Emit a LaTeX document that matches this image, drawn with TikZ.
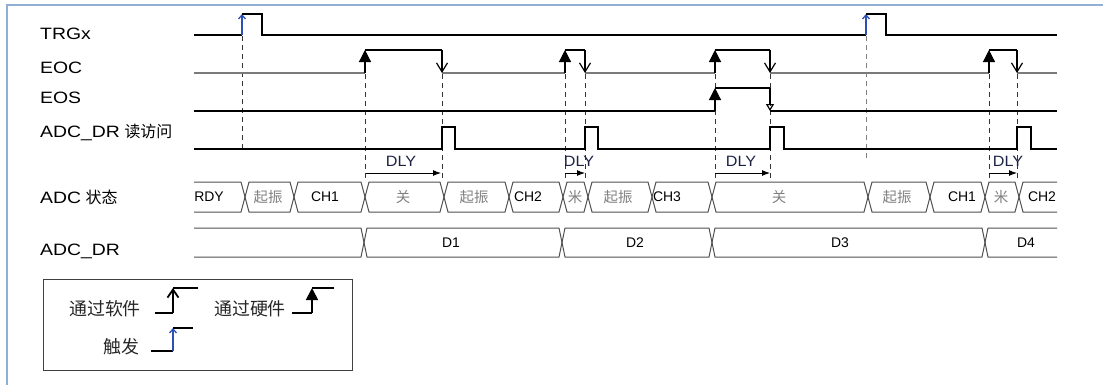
\documentclass[tikz,border=0pt]{standalone}
\usepackage{fontspec}
\usepackage{graphicx}
\setmainfont{Liberation Sans}
\newfontfamily\cjkfont{Noto Sans CJK SC}
\usetikzlibrary{arrows.meta}
\newcommand{\widetxt}[2]{\scalebox{#1}[1]{#2}}
\definecolor{framecol}{HTML}{8FB0D3}
\definecolor{trigcol}{HTML}{2E4FB5}
\definecolor{eocgray}{HTML}{7A7A7A}
\definecolor{buscol}{HTML}{505050}
\definecolor{cjkgray}{HTML}{808080}
\definecolor{dlycol}{HTML}{1C2245}
\tikzset{
  sig/.style={line width=1.2bp, black},
  lowgray/.style={line width=1.2bp, eocgray},
  hwarrow/.style={sig, -{Triangle[width=12bp,length=12bp]}},
  swarrow/.style={sig, -{Straight Barb[width=11bp,length=9bp]}},
  trigarrow/.style={line width=1.3bp, trigcol, -{Straight Barb[width=7bp,length=4bp]}},
  eosarrow/.style={sig, -{Triangle[open,width=8bp,length=7bp]}},
  dashln/.style={line width=1bp, black!80, dash pattern=on 5bp off 4bp},
  dlyarrow/.style={line width=1bp, black, -{Latex[length=8bp,width=6bp]}},
  bus/.style={line width=1bp, buscol},
  lab/.style={inner sep=0, font=\fontsize{16.5}{19}\selectfont, text=black},
  bustxt/.style={inner sep=0, font=\fontsize{14}{16}\selectfont, text=black},
  buscjk/.style={inner sep=0, font=\cjkfont\fontsize{14.5}{16}\selectfont, text=cjkgray},
  dlytxt/.style={inner sep=0, font=\fontsize{15}{17}\selectfont, text=dlycol},
  legtxt/.style={inner sep=0, font=\cjkfont\fontsize{18}{20}\selectfont, text=black!85},
  legsym/.style={line width=1.8bp, black},
}
\begin{document}
\begin{tikzpicture}[x=1bp,y=-1bp]
\useasboundingbox (0,0) rectangle (1103,385);
% frame
\draw[line width=1.5bp, framecol] (7,385) -- (7,5) -- (1103,5);

% signal labels
\node[lab, anchor=base west] (lTRG) at (40,39) {\widetxt{1.18}{TRGx}};
\node[lab, anchor=base west] (lEOC) at (40,73) {\widetxt{1.18}{EOC}};
\node[lab, anchor=base west] (lEOS) at (40,103) {\widetxt{1.18}{EOS}};
\node[lab, anchor=base west] (lRD) at (40,137) {\widetxt{1.18}{ADC\_DR} {\cjkfont\fontsize{16}{19}\selectfont 读访问}};
\node[lab, anchor=base west] (lST) at (40,203) {\widetxt{1.18}{ADC} {\cjkfont\fontsize{16}{19}\selectfont 状态}};
\node[lab, anchor=base west] (lDR) at (40,255) {\widetxt{1.18}{ADC\_DR}};

% dashed guides
\draw[dashln] (242,36) -- (242,153);
\draw[dashln, black!50] (866,36) -- (866,160);
\foreach \x in {365,442,565,585,715,770,989,1017}
  \draw[dashln] (\x,74) -- (\x,179);

% TRGx
\draw[sig] (194,35) -- (242,35);
\draw[trigarrow] (242,35) -- (242,14);
\draw[sig] (242,14) -- (262,14) -- (262,35) -- (866,35);
\draw[trigarrow] (866,35) -- (866,14);
\draw[sig] (866,14) -- (886,14) -- (886,35) -- (1057,35);

% EOC
\draw[lowgray] (194,73) -- (365,73) (442,73) -- (565,73) (585,73) -- (715,73)
  (770,73) -- (989,73) (1017,73) -- (1057,73);
\foreach \r/\f in {365/442, 565/585, 715/770, 989/1017} {
  \draw[hwarrow] (\r,73) -- (\r,50);
  \draw[sig] (\r,50) -- (\f,50);
  \draw[swarrow] (\f,50) -- (\f,73);
}

% EOS
\draw[sig] (194,111) -- (715,111);
\draw[hwarrow] (715,111) -- (715,88);
\draw[sig] (715,88) -- (770,88);
\draw[eosarrow] (770,88) -- (770,111);
\draw[sig] (770,111) -- (1057,111);

% ADC_DR read access
\draw[sig] (194,149) -- (442,149) -- (442,127) -- (455,127) -- (455,149)
  -- (585,149) -- (585,127) -- (598,127) -- (598,149)
  -- (770,149) -- (770,127) -- (784,127) -- (784,149)
  -- (1017,149) -- (1017,127) -- (1031,127) -- (1031,149) -- (1057,149);

% DLY
\foreach \a/\b/\c in {366/441/401, 565/585/579, 715/770/741, 989/1017/1008} {
  \draw[dlyarrow] (\a,173) -- (\b,173);
  \node[dlytxt] (dly\a) at (\c,161) {\widetxt{1.08}{DLY}};
}

% ADC state bus
\draw[bus] (194,182) -- (241,182) -- (245,197) -- (241,212) -- (194,212);
\foreach \a/\b in {245/294, 294/365, 365/444, 444/509, 509/563, 563/588, 588/652,
  652/712, 712/868, 868/930, 930/985, 985/1019}
  \draw[bus] (\a,197) -- (\a+4,182) -- (\b-4,182) -- (\b,197) -- (\b-4,212) -- (\a+4,212) -- cycle;
\draw[bus] (1057,182) -- (1023,182) -- (1019,197) -- (1023,212) -- (1057,212);

\node[bustxt] (s1) at (209,197) {RDY};
\node[buscjk] (s2) at (268,197) {起振};
\node[bustxt] (s3) at (325,197) {CH1};
\node[buscjk] (s4) at (403,197) {关};
\node[buscjk] (s5) at (474,197) {起振};
\node[bustxt] (s6) at (528,197) {CH2};
\node[buscjk] (s7) at (575,197) {米};
\node[buscjk] (s8) at (618,197) {起振};
\node[bustxt] (s9) at (667,197) {CH3};
\node[buscjk] (s10) at (779,197) {关};
\node[buscjk] (s11) at (897,197) {起振};
\node[bustxt] (s12) at (962,197) {CH1};
\node[buscjk] (s13) at (1001,197) {米};
\node[bustxt] (s14) at (1042,197) {CH2};

% ADC_DR bus
\draw[bus] (194,228) -- (361,228) -- (364,242.5) -- (361,257) -- (194,257);
\foreach \a/\b in {364/562, 562/712, 712/985}
  \draw[bus] (\a,242.5) -- (\a+3,228) -- (\b-3,228) -- (\b,242.5) -- (\b-3,257) -- (\a+3,257) -- cycle;
\draw[bus] (1057,228) -- (988,228) -- (985,242.5) -- (988,257) -- (1057,257);
\node[bustxt] (d1) at (451,243) {D1};
\node[bustxt] (d2) at (635,243) {D2};
\node[bustxt] (d3) at (840,243) {D3};
\node[bustxt] (d4) at (1026,243) {D4};

% legend
\draw[line width=1bp, black!75] (43,279) rectangle (352,370);
\node[legtxt] (lg1) at (105,309) {通过软件};
\draw[legsym] (155,313) -- (173,313);
\draw[legsym, -{Straight Barb[width=11bp,length=8bp]}] (173,313) -- (173,288);
\draw[legsym] (173,288) -- (198,288);
\node[legtxt] (lg2) at (250,309) {通过硬件};
\draw[legsym] (292,313) -- (312,313);
\draw[legsym, -{Triangle[width=12bp,length=12bp]}] (312,313) -- (312,288);
\draw[legsym] (312,288) -- (334,288);
\node[legtxt] (lg3) at (121,347) {触发};
\draw[legsym] (151,351) -- (173,351);
\draw[trigarrow] (173,351) -- (173,328);
\draw[legsym] (173,328) -- (193,328);
\end{tikzpicture}
\end{document}
